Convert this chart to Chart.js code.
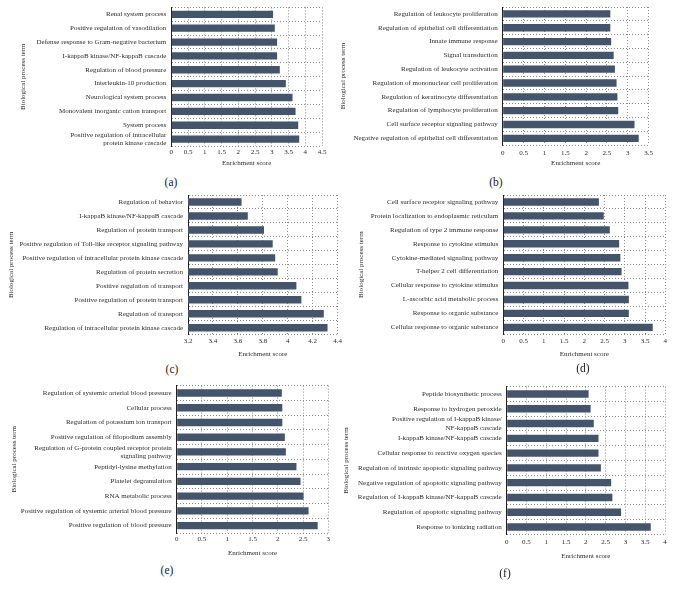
<!DOCTYPE html>
<html><head><meta charset="utf-8">
<script src="https://cdn.jsdelivr.net/npm/chart.js@4.4.0/dist/chart.umd.min.js"></script>
<style>
html,body{margin:0;padding:0;background:#fff;width:673px;height:592px;overflow:hidden;}
#wrap{position:relative;width:673px;height:592px;}
canvas{position:absolute;}
.plabel{position:absolute;font-family:"Liberation Serif",serif;font-size:11.5px;color:#222;transform:translate(-50%,-50%);white-space:nowrap;}
</style></head><body><div id="wrap"></div>
<script>
// ---------- DATA ----------
const aLabels = ["Renal system process","Positive regulation of vasodilation","Defense response to Gram-negative bacterium","I-kappaB kinase/NF-kappaB cascade","Regulation of blood pressure","Interleukin-10 production","Neurological system process","Monovalent inorganic cation transport","System process",["Positive regulation of intracellular","protein kinase cascade"]];
const aValues = [3.04,3.09,3.16,3.16,3.24,3.42,3.62,3.71,3.79,3.82];
const aRange = [0, 4.5, 0.5];

const bLabels = ["Regulation of leukocyte proliferation","Regulation of epithelial cell differentiation","Innate immune response","Signal transduction","Regulation of leukocyte activation","Regulation of mononuclear cell proliferation","Regulation of keratinocyte differentiation","Regulation of lymphocyte proliferation","Cell surface receptor signaling pathway","Negative regulation of epithelial cell differentiation"];
const bValues = [2.58,2.58,2.60,2.66,2.69,2.73,2.75,2.77,3.16,3.26];
const bRange = [0, 3.5, 0.5];

const cLabels = ["Regulation of behavior","I-kappaB kinase/NF-kappaB cascade","Regulation of protein transport","Positive regulation of Toll-like receptor signaling pathway","Positive regulation of intracellular protein kinase cascade","Regulation of protein secretion","Positive regulation of transport","Positive regulation of protein transport","Regulation of transport","Regulation of intracellular protein kinase cascade"];
const cValues = [3.63,3.68,3.81,3.88,3.90,3.92,4.07,4.11,4.29,4.32];
const cRange = [3.2, 4.4, 0.2];

const dLabels = ["Cell surface receptor signaling pathway","Protein localization to endoplasmic reticulum","Regulation of type 2 immune response","Response to cytokine stimulus","Cytokine-mediated signaling pathway","T-helper 2 cell differentiation","Cellular response to cytokine stimulus","L-ascorbic acid metabolic process","Response to organic substance","Cellular response to organic substance"];
const dValues = [2.36,2.48,2.63,2.86,2.89,2.92,3.09,3.10,3.10,3.69];
const dRange = [0, 4, 0.5];

const eLabels = ["Regulation of systemic arterial blood pressure","Cellular process","Regulation of potassium ion transport","Positive regulation of filopodium assembly",["Regulation of G-protein coupled receptor protein","signaling pathway"],"Peptidyl-lysine methylation","Platelet degranulation","RNA metabolic process","Positive regulation of systemic arterial blood pressure","Positive regulation of blood pressure"];
const eValues = [2.08,2.09,2.09,2.14,2.16,2.37,2.45,2.51,2.61,2.79];
const eRange = [0, 3, 0.5];

const fLabels = ["Peptide biosynthetic process","Response to hydrogen peroxide",["Positive regulation of I-kappaB kinase/","NF-kappaB cascade"],"I-kappaB kinase/NF-kappaB cascade","Cellular response to reactive oxygen species","Regulation of intrinsic apoptotic signaling pathway","Negative regulation of apoptotic signaling pathway","Regulation of I-kappaB kinase/NF-kappaB cascade","Regulation of apoptotic signaling pathway","Response to ionizing radiation"];
const fValues = [2.07,2.12,2.20,2.32,2.32,2.38,2.64,2.67,2.89,3.64];
const fRange = [0, 4, 0.5];

const panelNames = ["(a)","(b)","(c)","(d)","(e)","(f)"];
const xTitle = "Enrichment score";
const yTitle = "Biological process term";

// ---------- LAYOUT ----------
const FONT = "'Liberation Serif', 'Times New Roman', serif";
const FS = 7, LH = FS * 1.2;
const BAR = "#44546A";
const GRID = "#8c8c8c";
const panels = [
  {labels:aLabels, values:aValues, range:aRange, name:panelNames[0], L:0,   axisX:171.3, right:322,   top:7.4,   bottom:146,   yTitleX:23.5,  xTitleY:163,   tickPad:1.8, bar:0.53, lx:171, ly:182},
  {labels:bLabels, values:bValues, range:bRange, name:panelNames[1], L:336, axisX:502.7, right:648.7, top:7,     bottom:145.2, yTitleX:342.7, xTitleY:163.3, tickPad:3.6, bar:0.53, lx:496, ly:182},
  {labels:cLabels, values:cValues, range:cRange, name:panelNames[2], L:0,   axisX:188,   right:337.5, top:195,   bottom:334.7, yTitleX:11,    xTitleY:353.7, tickPad:2.1, bar:0.53, lx:172, ly:369},
  {labels:dLabels, values:dValues, range:dRange, name:panelNames[3], L:336, axisX:503.3, right:665.3, top:195,   bottom:334.3, yTitleX:361,   xTitleY:353.7, tickPad:2.5, bar:0.53, lx:583, ly:368},
  {labels:eLabels, values:eValues, range:eRange, name:panelNames[4], L:0,   axisX:176.7, right:328.3, top:385.6, bottom:533,   yTitleX:13.7,  xTitleY:552.7, tickPad:2.1, bar:0.5,  lx:167, ly:570},
  {labels:fLabels, values:fValues, range:fRange, name:panelNames[5], L:336, axisX:506.7, right:665,   top:386.6, bottom:534.4, yTitleX:346.5, xTitleY:556,   tickPad:4.0, bar:0.5,  lx:505, ly:573}
];

const fmt = v => String(Math.round(v * 10) / 10);

const wrap = document.getElementById('wrap');
panels.forEach(p => {
  const T = Math.floor(p.top - 6);
  const padTop = p.top - T;
  const W = Math.round(p.right - p.L + 10);
  const padRight = p.L + W - p.right;
  const H = Math.ceil(p.xTitleY + LH/2 - T);
  const titleBottomPad = (T + H) - (p.xTitleY + LH/2);
  const padLeft = p.yTitleX - p.L - LH/2;
  const cv = document.createElement('canvas');
  cv.width = W; cv.height = H;
  cv.style.left = p.L + 'px'; cv.style.top = T + 'px';
  cv.style.width = W + 'px'; cv.style.height = H + 'px';
  wrap.appendChild(cv);

  new Chart(cv.getContext('2d'), {
    type: 'bar',
    data: { labels: p.labels, datasets: [{ data: p.values, backgroundColor: BAR, borderWidth: 0, categoryPercentage: 1, barPercentage: p.bar }] },
    options: {
      indexAxis: 'y', responsive: false, animation: false, events: [], devicePixelRatio: 1,
      layout: { padding: { left: padLeft, top: padTop, right: padRight, bottom: 0 } },
      plugins: { legend: { display: false }, tooltip: { enabled: false } },
      scales: {
        x: {
          type: 'linear', min: p.range[0], max: p.range[1],
          ticks: { stepSize: p.range[2], color: '#2b2b2b', font: { family: FONT, size: FS }, padding: p.tickPad, maxRotation: 0, autoSkip: false, callback: v => fmt(v) },
          grid: { color: GRID, lineWidth: 1, drawTicks: false, borderDash: [1, 2] },
          border: { display: false, dash: [1, 2] },
          title: { display: true, text: xTitle, color: '#2b2b2b', font: { family: FONT, size: FS }, padding: { top: 0, bottom: titleBottomPad } },
          afterFit: s => { s.height = T + H - p.bottom; s.paddingLeft = 0; s.paddingRight = 0; }
        },
        y: {
          ticks: { color: '#2b2b2b', font: { family: FONT, size: FS }, padding: 5, autoSkip: false },
          grid: { color: GRID, lineWidth: 1, drawTicks: false, offset: true, borderDash: [1, 2] },
          border: { display: true, color: '#222', width: 1, dash: [1, 2] },
          title: { display: true, text: yTitle, color: '#2b2b2b', font: { family: FONT, size: FS }, padding: { top: 0, bottom: 0 } },
          afterFit: s => { s.width = p.axisX - p.L - padLeft; s.paddingTop = 0; s.paddingBottom = 0; }
        }
      }
    }
  });

  const lab = document.createElement('div');
  lab.className = 'plabel';
  lab.textContent = p.name;
  lab.style.left = p.lx + 'px'; lab.style.top = p.ly + 'px';
  wrap.appendChild(lab);
});
</script>
</body></html>
